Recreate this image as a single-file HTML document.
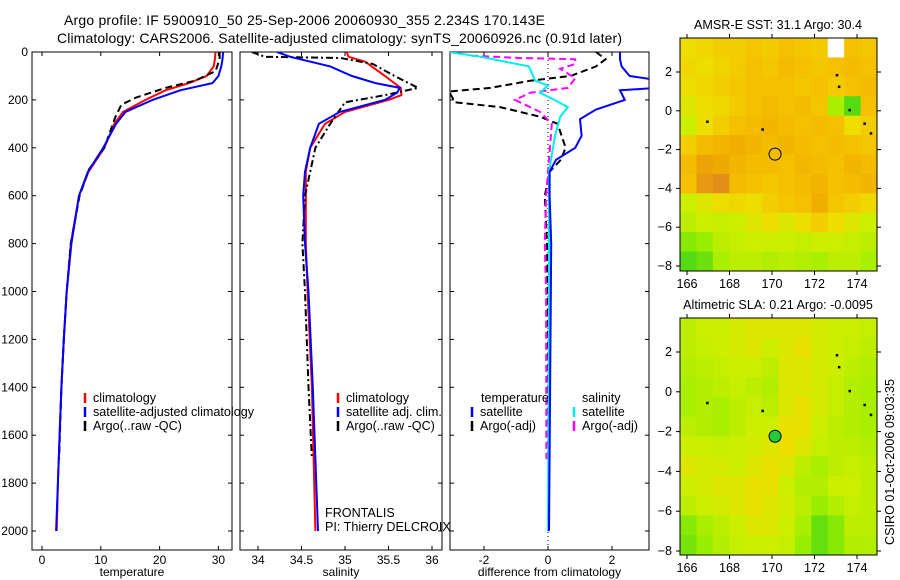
<!DOCTYPE html>
<html><head><meta charset="utf-8"><style>
html,body{margin:0;padding:0;background:#fff;}
svg{display:block;font-family:"Liberation Sans",sans-serif;}
</style></head><body>
<svg id="c" width="900" height="580" viewBox="0 0 900 580"></svg>
<script>
// ---- data ----
const tDepth=[0,30,60,100,130,160,200,250,300,400,500,600,800,1000,1200,1400,1600,1800,2000];
const tClim=[29.5,29.4,29.2,28,25,21,17.6,13.8,12.3,10.6,7.9,6.3,4.9,4.2,3.7,3.3,3.0,2.7,2.5];
const tSat=[30.8,30.7,30.5,30,29,23.5,18.8,14.2,12.6,10.4,7.8,6.3,5,4.2,3.7,3.3,3.0,2.7,2.4];
const tArgoDepth=[0,30,80,120,150,190,220,270,400,490,600,800,1000,1200,1400,1700];
const tArgo=[30.2,30.2,29.5,26,21,16,13.5,12.5,10.6,8,6.4,4.9,4.2,3.7,3.3,2.9];
const sDepth=[0,20,60,100,130,150,170,200,250,300,400,500,600,800,1000,1400,2000];
const sSat=[34.22,34.37,34.83,35.08,35.35,35.63,35.6,35.46,34.94,34.7,34.6,34.54,34.52,34.54,34.58,34.63,34.69];
const sClimDepth=[0,20,40,100,150,180,200,250,300,400,500,600,800,1000,1400,2000];
const sClim=[35.02,35.04,35.23,35.46,35.64,35.65,35.5,35,34.77,34.6,34.55,34.55,34.55,34.57,34.62,34.66];
const sArgoDepth=[0,20,25,50,100,150,180,210,300,400,600,800,1000,1400,1700];
const sArgo=[33.93,34.08,34.95,35.32,35.57,35.84,35.46,35,34.83,34.66,34.54,34.51,34.54,34.58,34.62];
const dTDepth=[0,30,60,100,115,125,150,160,200,240,280,350,400,450,500,600,800,2000];
const dTSat=[2.25,2.25,2.3,2.55,3.3,3.4,3.4,2.25,2.4,1.5,1.0,1.05,0.85,0.25,0.05,0.05,0.1,0.03];
const dTArgoDepth=[0,30,60,100,120,150,165,210,230,270,300,400,450,500,600,800,1200,1700];
const dTArgo=[1.5,1.8,1.5,0.7,-0.55,-1.8,-3.1,-2.9,-1.5,-0.25,0.3,0.55,0.4,0.05,-0.1,-0.03,0,0];
const dSSatDepth=[0,20,60,120,140,170,200,230,270,350,500,1000,2000];
const dSSat=[-3.1,-2.1,-0.6,-0.4,0,-0.25,0.2,0.62,0.38,0.22,0.03,0.03,0];
const dSArgoDepth=[15,25,30,50,70,110,150,170,200,250,300,400,600,800,1000,1700];
const dSArgo=[-2.4,-0.9,0.85,0.85,0.38,0.85,0.62,-0.55,-1.03,-0.25,0.12,0.06,-0.06,-0.1,-0.06,-0.05];
const depthTicks=[0,200,400,600,800,1000,1200,1400,1600,1800,2000];
const tTicks=[0,10,20,30];
const sTicks=[34,34.5,35,35.5,36];
const dTicks=[-2,0,2];
const lonTicks=[166,168,170,172,174];
const latTicks=[2,0,-2,-4,-6,-8];
const sstGrid=[
[.6,.62,.65,.65,.68,.66,.7,.68,.66,-1,.7,.68],
[.62,.6,.63,.66,.7,.68,.72,.7,.68,.7,.72,.7],
[.6,.62,.65,.68,.7,.7,.7,.68,.7,.66,.7,.72],
[.55,.6,.62,.66,.7,.72,.7,.72,.68,.4,.15,.7],
[.5,.6,.65,.7,.72,.75,.72,.7,.72,.7,.6,.65],
[.65,.72,.75,.78,.75,.72,.75,.72,.7,.72,.7,.68],
[.72,.82,.8,.75,.72,.72,.7,.74,.72,.7,.75,.72],
[.7,.85,.88,.72,.7,.68,.7,.72,.75,.7,.72,.75],
[.5,.55,.6,.62,.6,.65,.68,.7,.78,.68,.65,.62],
[.45,.5,.48,.5,.55,.6,.55,.6,.65,.6,.55,.5],
[.3,.35,.45,.48,.5,.5,.5,.48,.5,.5,.48,.45],
[.15,.22,.4,.45,.45,.42,.45,.42,.4,.45,.45,.4]];
const slaGrid=[
[.45,.5,.5,.52,.55,.55,.55,.55,.52,.5,.5,.48],
[.45,.48,.5,.52,.55,.5,.55,.58,.52,.5,.48,.45],
[.42,.45,.48,.5,.5,.45,.55,.55,.52,.5,.45,.42],
[.4,.42,.45,.48,.45,.42,.55,.55,.52,.48,.42,.4],
[.4,.42,.4,.45,.48,.45,.55,.58,.52,.48,.42,.4],
[.45,.42,.4,.45,.5,.5,.58,.58,.5,.45,.42,.4],
[.5,.5,.48,.5,.52,.55,.6,.55,.48,.45,.45,.42],
[.55,.52,.52,.5,.55,.58,.55,.45,.4,.45,.48,.45],
[.5,.52,.55,.55,.58,.58,.5,.42,.42,.5,.5,.45],
[.45,.5,.52,.55,.58,.55,.52,.45,.35,.42,.48,.45],
[.3,.4,.45,.5,.55,.55,.5,.4,.2,.3,.45,.45],
[.25,.35,.42,.48,.5,.5,.48,.35,.2,.3,.42,.42]];
const floatLon=170.143, floatLat=-2.234;

// ---- helpers ----
const NS='http://www.w3.org/2000/svg';
const svg=document.getElementById('c');
function el(tag,attrs,parent){const e=document.createElementNS(NS,tag);for(const k in attrs)e.setAttribute(k,attrs[k]);(parent||svg).appendChild(e);return e;}
function txt(s,x,y,anchor,size,parent){const t=el('text',{x:x,y:y,'text-anchor':anchor||'start','font-size':size||12,fill:'#000'},parent);t.textContent=s;return t;}
const yD=d=>52+d*0.2395;
const xT=v=>42+v*5.88;
const xS=v=>258+(v-34)*87;
const xDf=v=>548+v*32;

function panel(name,x0,x1,xs,ticks,label,dec){
  const g=el('g',{});
  
  
  const f=el('rect',{x:x0,y:52,width:x1-x0,height:498,fill:'none',stroke:'#000','stroke-width':1},g);
  
  
  depthTicks.forEach(d=>{
    el('line',{x1:x0,x2:x0+4,y1:yD(d),y2:yD(d),stroke:'#000'},g);
    el('line',{x1:x1-4,x2:x1,y1:yD(d),y2:yD(d),stroke:'#000'},g);
    if(x0<40){const t=txt(String(d),x0-4,yD(d)+4,'end',12,g);
      
      }
  });
  ticks.forEach(v=>{
    el('line',{x1:xs(v),x2:xs(v),y1:550,y2:546,stroke:'#000'},g);
    el('line',{x1:xs(v),x2:xs(v),y1:52,y2:56,stroke:'#000'},g);
    const t=txt(String(v),xs(v),564,'middle',12,g);
    
    
  });
  const l=txt(label,(x0+x1)/2,576,'middle',12,g);
  
  
  const cp=el('clipPath',{id:'cp-'+name},g);
  el('rect',{x:x0,y:52,width:x1-x0,height:498},cp);
  return g;
}
function line(name,depths,vals,xs,color,dash,clip,w){
  const pts=depths.map((d,i)=>xs(vals[i]).toFixed(1)+','+yD(d).toFixed(1)).join(' ');
  const p=el('polyline',{points:pts,fill:'none',stroke:color,'stroke-width':w||2,'stroke-dasharray':dash||'none','clip-path':'url(#cp-'+clip+')'});
  
  
}
function legend(x,y,color,label,clip){
  const m=el('line',{x1:x,x2:x,y1:y-9,y2:y+1,stroke:color,'stroke-width':2.5});
  
  
  const t=txt(label,x+8,y,'start',12.6);
  if(clip)t.setAttribute('clip-path','url(#cp-'+clip+')');
  
  
}

// titles
let tt=txt('Argo profile: IF 5900910_50 25-Sep-2006 20060930_355 2.234S 170.143E',64,25,'start',14);
tt.setAttribute('textLength','481');


tt=txt('Climatology: CARS2006. Satellite-adjusted climatology: synTS_20060926.nc (0.91d later)',57,43,'start',14);
tt.setAttribute('textLength','565');



// panels
panel('temperature-panel',32,232,xT,tTicks,'temperature');
line('temperature-climatology-line',tDepth,tClim,xT,'#f00',null,'temperature-panel');
line('temperature-argo-line',tArgoDepth,tArgo,xT,'#000','7,4','temperature-panel');
line('temperature-satellite-line',tDepth,tSat,xT,'#00f',null,'temperature-panel');
legend(85,402,'#f00','climatology');
legend(85,416,'#00f','satellite-adjusted climatology');
legend(85,430,'#000','Argo(..raw -QC)');

panel('salinity-panel',240,442,xS,sTicks,'salinity');
line('salinity-climatology-line',sClimDepth,sClim,xS,'#f00',null,'salinity-panel');
line('salinity-argo-line',sArgoDepth,sArgo,xS,'#000','7,3,2,3','salinity-panel');
line('salinity-satellite-line',sDepth,sSat,xS,'#00f',null,'salinity-panel');
legend(338,402,'#f00','climatology');
legend(338,416,'#00f','satellite adj. clim.');
legend(338,430,'#000','Argo(..raw -QC)');
tt=txt('FRONTALIS',325,517,'start',12.6);


tt=txt('PI: Thierry DELCROIX',325,531,'start',12.6);



panel('difference-panel',450,649,xDf,dTicks,'difference from climatology');
const zl=el('line',{x1:xDf(0),x2:xDf(0),y1:52,y2:550,stroke:'#000','stroke-dasharray':'1,3'});


line('temp-diff-argo-line',dTArgoDepth,dTArgo,xDf,'#000','7,4','difference-panel');
line('sal-diff-argo-line',dSArgoDepth,dSArgo,xDf,'#f0f','7,4','difference-panel');
line('sal-diff-satellite-line',dSSatDepth,dSSat,xDf,'#0ee',null,'difference-panel');
line('temp-diff-satellite-line',dTDepth,dTSat,xDf,'#00f',null,'difference-panel');
tt=txt('temperature',481,402,'start',12.6);


tt=txt('salinity',582,402,'start',12.6);


legend(472,416,'#00f','satellite');
legend(472,430,'#000','Argo(-adj)');
legend(574,416,'#0ee','satellite');
legend(574,430,'#f0f','Argo(-adj)');

// colormap
const stops=[[0,[34,204,34]],[.35,[153,238,0]],[.5,[204,238,0]],[.6,[238,221,0]],[.7,[245,192,0]],[.8,[238,170,0]],[.9,[221,136,34]],[1,[200,110,40]]];
function cmap(v){
  if(v<0)return '#fff';
  for(let i=1;i<stops.length;i++){if(v<=stops[i][0]){const a=stops[i-1],b=stops[i],t=(v-a[0])/(b[0]-a[0]);
    return 'rgb('+a[1].map((c,k)=>Math.round(c+(b[1][k]-c)*t)).join(',')+')';}}
  return 'rgb(200,110,40)';
}
function map(name,title,y0,y1,lat2y,latPer,grid,fillMarker){
  const x0=680,x1=877;
  const lonX=l=>687+(l-166)*21.25;
  const latY=l=>lat2y-(l-2)*latPer;
  const g=el('g',{});
  
  
  const rows=grid.length,cols=grid[0].length,cw=(x1-x0)/cols,ch=(y1-y0)/rows;
  grid.forEach((r,i)=>r.forEach((v,j)=>{
    const c=el('rect',{x:x0+j*cw,y:y0+i*ch,width:cw+0.5,height:ch+0.5,fill:cmap(v)},g);
    
    
  }));
  const f=el('rect',{x:x0,y:y0,width:x1-x0,height:y1-y0,fill:'none',stroke:'#000'},g);
  
  
  lonTicks.forEach(l=>{
    el('line',{x1:lonX(l),x2:lonX(l),y1:y1,y2:y1+4,stroke:'#000'},g);
    el('line',{x1:lonX(l),x2:lonX(l),y1:y0,y2:y0-4,stroke:'#000'},g);
    const t=txt(String(l),lonX(l),y1+17,'middle',12.6,g);
    
    
  });
  latTicks.forEach(l=>{
    el('line',{x1:x0,x2:x0-4,y1:latY(l),y2:latY(l),stroke:'#000'},g);
    el('line',{x1:x1,x2:x1+4,y1:latY(l),y2:latY(l),stroke:'#000'},g);
    const t=txt(String(l).replace('-','\u2212'),x0-8,latY(l)+4,'end',12.6,g);
    
    
  });
  const t=txt(title,778,y0-9,'middle',12.6,g);
  
  
  const m=el('circle',{cx:lonX(floatLon),cy:latY(floatLat),r:6,fill:fillMarker,stroke:'#000','stroke-width':1},g);
  
  
  [[169.5,-0.9],[166.9,-0.5],[173,1.9],[173.1,1.3],[173.6,0.1],[174.3,-0.6],[174.6,-1.1]].forEach(p=>{
    const d=el('rect',{x:lonX(p[0]),y:latY(p[1]),width:2.5,height:2.5,fill:'#000'},g);
    
    
  });
}
map('sst-map','AMSR-E SST: 31.1 Argo: 30.4',38,271,72,19.4,sstGrid,'none');
map('sla-map','Altimetric SLA: 0.21 Argo: -0.0095',318,555,352,19.9,slaGrid,'#22cc33');

tt=txt('CSIRO 01-Oct-2006 09:03:35',0,0,'middle',12.6);
tt.setAttribute('transform','translate(894,462) rotate(-90)');


</script>
</body></html>
